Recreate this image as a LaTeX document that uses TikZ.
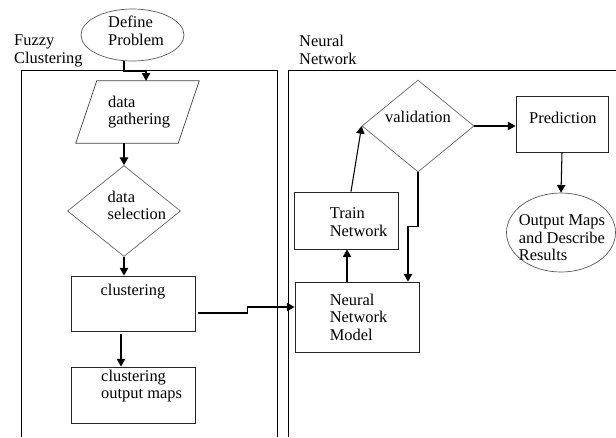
\documentclass[tikz,border=0pt]{standalone}
\usepackage{fontspec}
\setmainfont{Liberation Serif}
\usetikzlibrary{shapes.geometric,arrows.meta,calc}
\begin{document}
\begin{tikzpicture}[x=0.03cm,y=-0.03cm,
    txt/.style={font=\fontsize{14}{15}\selectfont,align=left,inner sep=0pt},
    lbl/.style={txt,anchor=center},
    box/.style={draw=black!85,line width=0.7pt,rectangle,inner sep=0pt},
    choice/.style={draw=black!60,line width=0.6pt,diamond,inner sep=0pt},
    oval/.style={draw=black!65,line width=0.6pt,ellipse,inner sep=0pt},
    arr/.style={-{Triangle[length=2.3mm,width=2.5mm]},line width=0.9pt},
    frame/.style={line width=0.7pt}]
    \useasboundingbox (0,0) rectangle (616,437);
    % the two frames
    \draw[frame] (21,437) -- (21,70) -- (277,70) -- (277,437);
    \draw[frame] (288,437) -- (288,70) -- (616,70);
    \node[txt,anchor=west] at (14,51) (fuzzy) {Fuzzy\\Clustering};
    \node[txt,anchor=west] at (299,50) (neural) {Neural\\Network};
    % fuzzy clustering side
    \node[oval,minimum width=3.09cm,minimum height=1.56cm,
        label={[lbl,xshift=3pt,yshift=3.8pt]center:Define\\Problem}] at (132.5,35) (define) {};
    \node[rectangle,inner sep=0pt,minimum width=3.69cm,minimum height=1.86cm,
        label={[lbl,xshift=1.3pt]center:data\\gathering}] at (137.5,112) (gather) {};
    \draw[draw=black!75,line width=0.6pt] (gather.south west) -- ($(gather.south east)+(-21,0)$)
        -- (gather.north east) -- ($(gather.north west)+(21,0)$) -- cycle;
    \node[choice,minimum width=3.39cm,minimum height=2.73cm,
        label={[lbl,xshift=11pt,yshift=4.7pt]center:data\\selection}] at (124,211) (select) {};
    \node[box,minimum width=3.72cm,minimum height=1.65cm,
        label={[lbl,yshift=9.8pt]center:clustering}] at (133,303.5) (clusA) {};
    \node[box,minimum width=3.72cm,minimum height=1.68cm,
        label={[lbl,xshift=7.3pt,yshift=7.7pt]center:clustering\\output maps}] at (133,395) (clusB) {};
    % neural network side
    \node[box,minimum width=3.72cm,minimum height=2.1cm,
        label={[lbl,xshift=1.3pt]center:Neural\\Network\\Model}] at (357,317) (model) {};
    \node[box,minimum width=3.12cm,minimum height=1.71cm,
        label={[lbl,xshift=10.7pt,yshift=-1.3pt]center:Train\\Network}] at (346,220.5) (train) {};
    \node[choice,minimum width=3.36cm,minimum height=2.76cm,
        label={[lbl,yshift=7.7pt]center:validation}] at (418,126) (valid) {};
    \node[box,minimum width=2.76cm,minimum height=1.68cm,
        label={[lbl,xshift=0.8pt,yshift=5.1pt]center:Prediction}] at (562,124) (predict) {};
    \node[oval,minimum width=3.27cm,minimum height=2.37cm,
        label={[lbl,xshift=0.8pt,yshift=-4.7pt]center:Output Maps\\and Describe\\Results}] at (561,232.5) (output) {};
    % connectors
    \draw[arr] ($(define.south)+(-8.5,0)$) -- ++(0,10) -| ($(gather.north)+(8.5,0)$);
    \draw[arr] (gather.south -| select.north) -- (select.north);
    \draw[arr] (select.south) -- (select.south |- clusA.north);
    \draw[arr] ($(clusA.south)+(-12,3)$) -- ($(clusB.north)+(-12,0)$);
    \draw[arr] ($(clusA.east)+(3,9.5)$) -- ++(49,0) |- ($(model.west)+(0,-10)$);
    \draw[arr] ($(model.north)+(-10,0)$) -- ($(train.south)+(1,0)$);
    \draw[arr] ($(train.north)+(5,0)$) -- (valid.west);
    \draw[arr] (valid.south) -- ++(0,54) -| ($(model.north)+(51,0)$);
    \draw[arr] (valid.east) -- (valid.east -| predict.west);
    \draw[arr] (predict.south) -- (output.north);
\end{tikzpicture}
\end{document}
